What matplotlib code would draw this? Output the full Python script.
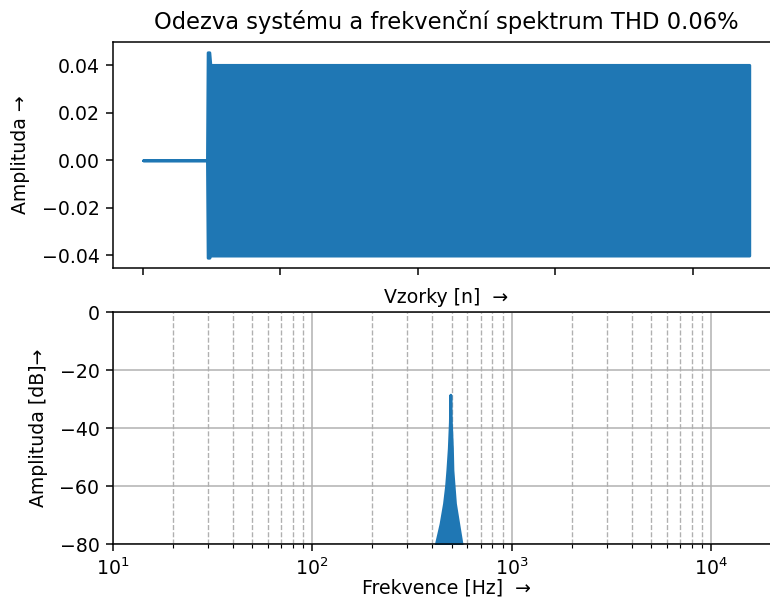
import matplotlib
matplotlib.use("Agg")
import matplotlib.pyplot as plt
from matplotlib.ticker import LogLocator

# ---- data ----
# time-domain envelope of the system response (sample index, amplitude)
sig_n = [0, 9300, 9400, 9650, 9800, 88200]
sig_upper = [0.0, 0.0, 0.0455, 0.0455, 0.0402, 0.0402]
sig_lower = [0.0, 0.0, -0.0410, -0.0410, -0.0401, -0.0401]
sample_ticks = [0, 20000, 40000, 60000, 80000]

# spectrum envelope around the tone (Hz, dB)
spec_f = [417, 440, 458, 469, 476, 484, 490, 493, 496, 502, 505, 512, 520, 540, 561]
spec_db = [-80, -73, -66, -60, -54.5, -47, -38, -28.5, -38, -47, -54.5, -60, -66, -73, -80]
f_limits = [10, 22050]
db_ticks = [0, -20, -40, -60, -80]

title = "Odezva systému a frekvenční spektrum THD 0.06%"

C0 = "#1f77b4"
S = 1.36  # overall scale of the reference rendering

plt.rcParams.update({
    "font.size": 10 * S,
    "axes.linewidth": 0.8 * S,
    "xtick.major.size": 3.5 * S,
    "ytick.major.size": 3.5 * S,
    "xtick.minor.size": 2 * S,
    "xtick.major.width": 0.8 * S,
    "ytick.major.width": 0.8 * S,
    "xtick.minor.width": 0.6 * S,
    "xtick.major.pad": 3.5 * S,
    "ytick.major.pad": 3.5 * S,
    "axes.labelpad": 4 * S,
})

fig = plt.figure(figsize=(7.70, 6.05), dpi=100)
W, H = 770.0, 605.0
left, right = 112.7, 779.6
ax1 = fig.add_axes([left / W, 1 - 268 / H, (right - left) / W, (268 - 42) / H])
ax2 = fig.add_axes([left / W, 1 - 544 / H, (right - left) / W, (544 - 312) / H])

# --- top: system response ---
ax1.fill_between(sig_n, sig_lower, sig_upper, color=C0, edgecolor=C0, linewidth=1.5 * S)
ax1.set_xticks(sample_ticks)
ax1.tick_params(axis="x", labelbottom=False)
ax1.set_yticks([0.04, 0.02, 0.0, -0.02, -0.04])
ax1.set_ylabel("Amplituda →", labelpad=8)
ax1.set_xlabel("Vzorky [n]  →", labelpad=10)
ax1.set_title(title, pad=9, fontsize=12 * S)

# --- bottom: spectrum ---
ax2.fill_between(spec_f, -90, spec_db, color=C0, edgecolor=C0, linewidth=1.5 * S)
ax2.set_xscale("log")
ax2.set_xlim(*f_limits)
ax2.set_ylim(-80, 0)
ax2.set_yticks(db_ticks)
ax2.xaxis.set_major_locator(LogLocator(base=10, numticks=10))
ax2.xaxis.set_minor_locator(LogLocator(base=10, subs=range(2, 10), numticks=20))
ax2.grid(which="major", linestyle="-", color="#b0b0b0", linewidth=0.8 * S)
ax2.grid(which="minor", axis="x", linestyle=(0, (3.7, 1.6)), color="#b0b0b0", linewidth=0.8 * S * 0.9)
ax2.set_axisbelow(True)
ax2.set_ylabel("Amplituda [dB]→", labelpad=8)
ax2.set_xlabel("Frekvence [Hz]  →", labelpad=0)

fig.savefig("out.png", dpi=100)
